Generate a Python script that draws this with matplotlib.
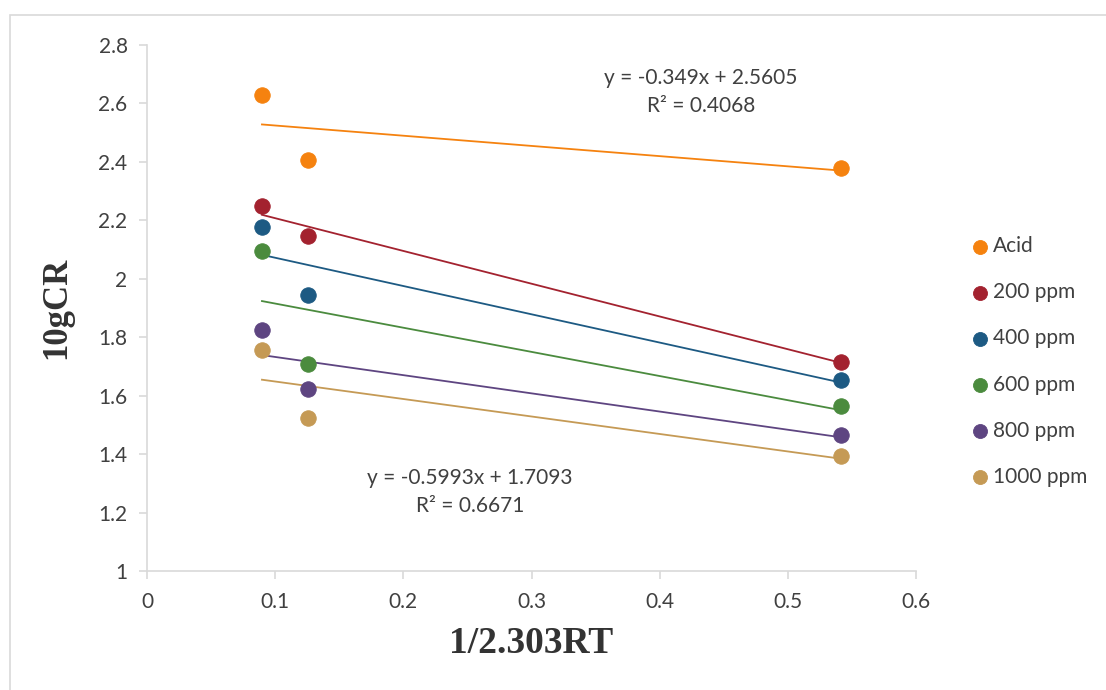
import numpy as np
import matplotlib
matplotlib.use('Agg')
import matplotlib.pyplot as plt
from matplotlib.patches import Rectangle

# data
x_vals = [0.0897, 0.1256, 0.5415]
acid = [2.629, 2.406, 2.379]
ppm200 = [2.249, 2.146, 1.715]
ppm400 = [2.177, 1.944, 1.653]
ppm600 = [2.095, 1.708, 1.565]
ppm800 = [1.825, 1.623, 1.465]
ppm1000 = [1.756, 1.523, 1.393]

series_names = ['Acid', '200 ppm', '400 ppm', '600 ppm', '800 ppm', '1000 ppm']
series_vals = [acid, ppm200, ppm400, ppm600, ppm800, ppm1000]
colors = ['#F5820F', '#A3222F', '#1D5A83', '#4B8B3E', '#5E4581', '#C59A55']

plt.rcParams['font.family'] = ['Lato', 'DejaVu Sans']

fig = plt.figure(figsize=(11.06, 6.90), dpi=100)
ax = fig.add_axes([147/1106, 1 - 571/690, (916-147)/1106, (571-45)/690])

# outer chart border
fig.patches.append(Rectangle((10/1106, -0.01), 1.0, 1 - 15/690 + 0.01,
                             transform=fig.transFigure, fill=False,
                             edgecolor='#D9D9D9', linewidth=1.2))

x = np.array(x_vals)
for name, vals, c in zip(series_names, series_vals, colors):
    y = np.array(vals)
    slope, icpt = np.polyfit(x, y, 1)
    xl = np.array([x.min(), x.max()])
    ax.plot(xl, slope * xl + icpt, color=c, lw=1.3, zorder=2)
    ax.scatter(x, y, s=125, color=c, edgecolors=c, linewidths=0.6,
               label=name, zorder=3)

ax.set_xlim(0, 0.6)
ax.set_ylim(1, 2.8)
ax.set_xticks(np.arange(0, 0.61, 0.1))
ax.set_xticklabels(['0', '0.1', '0.2', '0.3', '0.4', '0.5', '0.6'])
ax.set_yticks(np.arange(1, 2.81, 0.2))
ax.set_yticklabels(['1', '1.2', '1.4', '1.6', '1.8', '2', '2.2', '2.4', '2.6', '2.8'])

for s in ['top', 'right']:
    ax.spines[s].set_visible(False)
for s in ['left', 'bottom']:
    ax.spines[s].set_color('#D9D9D9')
    ax.spines[s].set_linewidth(1.2)
ax.tick_params(colors='#D9D9D9', labelcolor='#404040', labelsize=15,
               length=6, width=1.2)
ax.tick_params(axis='x', pad=9)
ax.tick_params(axis='y', pad=8)

ax.set_xlabel('1/2.303RT', family='Liberation Serif', fontweight='bold',
              fontsize=27, color='#333333', labelpad=10)
ax.set_ylabel('10gCR', family='Liberation Serif', fontweight='bold',
              fontsize=25, color='#333333', labelpad=18)

# trendline equations
ax.text(0.432, 2.639, 'y = -0.349x + 2.5605\nR² = 0.4068', ha='center', va='center',
        fontsize=15, color='#404040', linespacing=1.45)
ax.text(0.252, 1.27, 'y = -0.5993x + 1.7093\nR² = 0.6671', ha='center', va='center',
        fontsize=15, color='#404040', linespacing=1.45)

leg = ax.legend(loc='upper left', bbox_to_anchor=(1.0585, 0.652), frameon=False,
                fontsize=15, labelcolor='#404040', handlelength=1.0,
                handletextpad=0.15, labelspacing=1.25, markerscale=0.9,
                borderaxespad=0)

fig.savefig('out.png', dpi=100)
